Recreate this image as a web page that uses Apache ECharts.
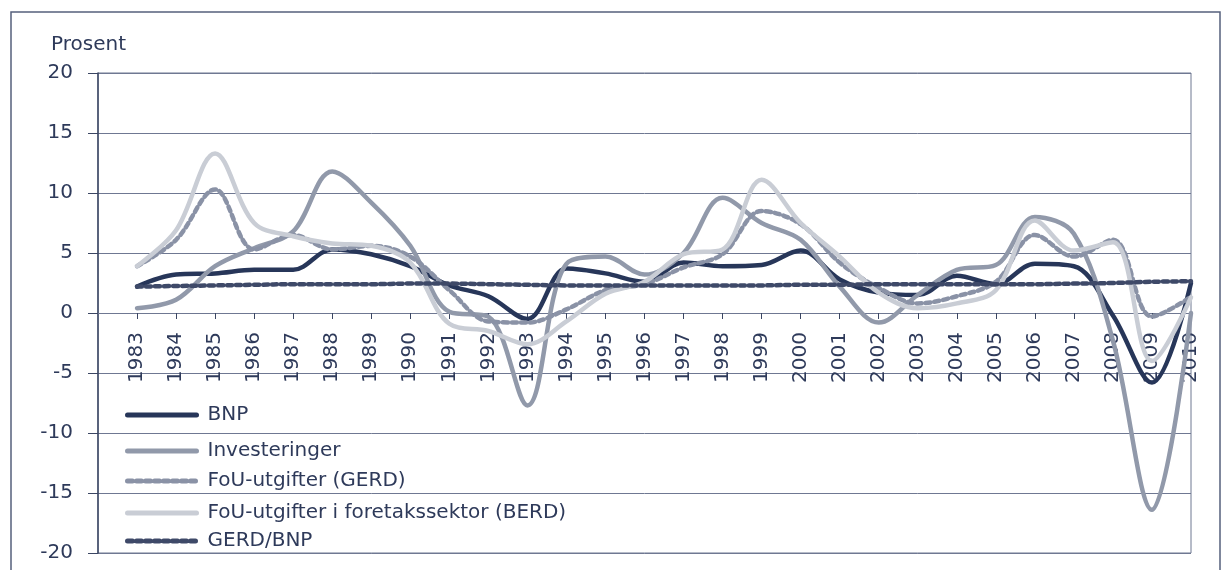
<!DOCTYPE html>
<html>
<head>
<meta charset="utf-8">
<script src="https://cdn.jsdelivr.net/npm/echarts@6/dist/echarts.min.js"></script>
<style>
  html, body { margin: 0; padding: 0; background: #fff; }
  #chart { width: 1229px; height: 570px; }
</style>
</head>
<body>
<div id="chart"></div>
<script>
const years = [1983, 1984, 1985, 1986, 1987, 1988, 1989, 1990, 1991, 1992,
  1993, 1994, 1995, 1996, 1997, 1998, 1999, 2000, 2001, 2002,
  2003, 2004, 2005, 2006, 2007, 2008, 2009, 2010]

const bnp = [2.2, 3.2, 3.3, 3.6, 3.6, 5.3, 4.9, 3.9, 2.3, 1.4,
  -0.5, 3.7, 3.3, 2.6, 4.2, 3.9, 4.0, 5.2, 2.8, 1.7,
  1.5, 3.1, 2.4, 4.1, 3.9, -0.2, -5.8, 2.5]

const investeringer = [0.4, 1.1, 3.9, 5.4, 6.8, 11.8, 9.2, 5.6, 0.1, -0.3,
  -7.7, 4.1, 4.7, 3.2, 5.0, 9.6, 7.5, 6.1, 2.2, -0.8,
  1.5, 3.6, 4.0, 8.0, 6.6, -2.3, -16.4, 0.0]

const gerd = [3.9, 6.1, 10.3, 5.3, 6.5, 5.3, 5.6, 4.7, 1.9, -0.7,
  -0.8, 0.3, 1.9, 2.4, 3.8, 4.9, 8.5, 7.4, 4.2, 2.1,
  0.8, 1.4, 2.6, 6.5, 4.7, 6.1, -0.3, 1.35]

const berd = [3.9, 6.9, 13.3, 7.5, 6.4, 5.8, 5.6, 4.2, -0.9, -1.5,
  -2.6, -0.7, 1.6, 2.6, 4.9, 5.3, 11.1, 7.5, 4.7, 1.7,
  0.4, 0.8, 1.9, 7.7, 5.2, 5.9, -4.0, 1.3]

const gerdBnp = [2.2, 2.25, 2.3, 2.35, 2.4, 2.4, 2.4, 2.45, 2.45, 2.4,
  2.35, 2.3, 2.3, 2.3, 2.3, 2.3, 2.3, 2.35, 2.35, 2.4,
  2.4, 2.4, 2.4, 2.4, 2.45, 2.5, 2.6, 2.65]

const textColor = '#2e3a5a'
const font = 'DejaVu Sans'

const chart = echarts.init(document.getElementById('chart'))

const pairs = arr => years.map((y, i) => [y, arr[i]])

const line = (name, data, color, dashed) => ({
  name: name,
  type: 'line',
  data: pairs(data),
  smooth: 0.35,
  symbol: 'none',
  lineStyle: {
    color: color,
    width: 4.5,
    type: dashed ? [5, 4] : 'solid',
    cap: 'round'
  },
  itemStyle: { color: color }
})

// one legend per row, so each row can be placed like the original
const legendRow = (name, top) => ({
  left: 125,
  top: top,
  orient: 'vertical',
  padding: 0,
  itemWidth: 69,
  itemHeight: 14,
  data: [name],
  itemStyle: { opacity: 0 },
  lineStyle: { width: 5 },
  textStyle: { fontFamily: font, fontSize: 20, color: textColor, padding: [0, 0, 0, 6] }
})

const option = {
  animation: false,
  textStyle: { fontFamily: font },
  title: {
    text: 'Prosent',
    left: 46,
    top: 30,
    textStyle: { fontFamily: font, fontSize: 20, fontWeight: 'normal', color: textColor }
  },
  graphic: [{
    type: 'rect',
    shape: { x: 11, y: 12, width: 1209, height: 570 },
    style: { fill: 'none', stroke: '#55607c', lineWidth: 1.5 },
    silent: true
  }],
  legend: [
    legendRow('BNP', 405),
    legendRow('Investeringer', 441),
    legendRow('FoU-utgifter (GERD)', 471),
    legendRow('FoU-utgifter i foretakssektor (BERD)', 503),
    legendRow('GERD/BNP', 531)
  ],
  grid: {
    left: 98,
    right: 38,
    top: 73,
    bottom: 17,
    outerBoundsMode: 'none',
    show: true,
    borderColor: '#6f7892',
    borderWidth: 1
  },
  xAxis: {
    type: 'value',
    min: 1982,
    max: 2010,
    interval: 1,
    position: 'bottom',
    offset: -240, // puts the year axis on the zero line
    axisLine: { onZero: false, lineStyle: { color: '#6f7892', width: 1 } },
    axisTick: { show: true, length: 6, lineStyle: { color: '#3b4663' } },
    splitLine: { show: false },
    axisLabel: {
      rotate: 90,
      margin: 19,
      fontSize: 20,
      fontFamily: font,
      color: textColor,
      showMinLabel: false,
      showMaxLabel: true,
      hideOverlap: false,
      formatter: v => (v === 1982 ? '' : String(v))
    }
  },
  yAxis: {
    type: 'value',
    min: -20,
    max: 20,
    interval: 5,
    axisLine: { show: true, lineStyle: { color: '#3b4663', width: 1.5 } },
    axisTick: { show: true, length: 10, lineStyle: { color: '#3b4663' } },
    splitLine: { lineStyle: { color: '#6f7892', width: 1 } },
    axisLabel: { margin: 25, fontSize: 20, fontFamily: font, color: textColor }
  },
  series: [
    line('BNP', bnp, '#273659', false),
    line('Investeringer', investeringer, '#9199aa', false),
    line('FoU-utgifter (GERD)', gerd, '#8a92a6', true),
    line('FoU-utgifter i foretakssektor (BERD)', berd, '#c9cdd5', false),
    line('GERD/BNP', gerdBnp, '#3e4968', true)
  ]
}

chart.setOption(option)
window.addEventListener('resize', () => chart.resize())
</script>
</body>
</html>
